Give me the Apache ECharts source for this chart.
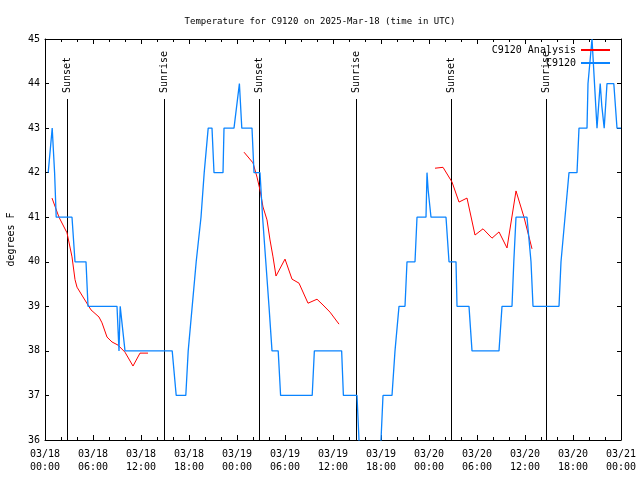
<!DOCTYPE html>
<html>
<head>
<meta charset="utf-8">
<script src="https://cdn.jsdelivr.net/npm/echarts@6/dist/echarts.min.js"></script>
<style>html,body{margin:0;padding:0;background:#fff}#c{width:640px;height:480px}</style>
</head>
<body>
<div id="c"></div>
<script>
// Hours since 2025-03-18 00:00 UTC, temperature in degrees F
const xTickLabels = ['03/18\n00:00','03/18\n06:00','03/18\n12:00','03/18\n18:00','03/19\n00:00','03/19\n06:00','03/19\n12:00','03/19\n18:00','03/20\n00:00','03/20\n06:00','03/20\n12:00','03/20\n18:00','03/21\n00:00'];

const observed = [
  [0.4,42],[0.9,43],[1.0,43],[1.2,42],[1.4,41],[3.375,41],[3.75,40],[5.125,40],[5.375,39],
  [9.0,39],[9.25,38],[9.4,39],[9.6,39],[10.0,38],[15.9,38],[16.4,37],[17.6,37],[17.9,38],
  [18.1,38],[18.4,39],[18.9,40],[19.5,41],[19.9,42],[20.4,43],[20.875,43],[21.125,42],
  [22.25,42],[22.375,43],[23.625,43],[24.3,44],[24.6,43],[25.875,43],[26.125,42],[26.875,42],
  [27.2,41],[27.6,40],[28.0,39],[28.375,38],[29.15,38],[29.45,37],[33.4,37],[33.67,38],
  [37.08,38],[37.3,37],[39.0,37],[39.5,35],[41.75,35],[42.25,37],[43.375,37],[43.75,38],
  [44.25,39],[45.0,39],[45.25,40],[46.25,40],[46.5,41],[47.625,41],[47.75,42],[47.9,41.6],
  [48.25,41],[50.125,41],[50.5,40],[51.375,40],[51.5,39],[53.0,39],[53.375,38],[56.75,38],
  [57.125,39],[58.375,39],[58.6,40],[58.875,41],[60.25,41],[60.75,40],[61.0,39],[64.25,39],
  [64.5,40],[64.75,40],[65.0,41],[65.25,41],[65.5,42],[66.5,42],[66.75,43],[67.75,43],
  [67.875,44],[68.375,45],[68.5,45],[69.0,43],[69.4,44],[69.6,43.5],[69.9,43],[70.25,44],
  [71.1,44],[71.5,43],[72,43]
];

const analysisDay1 = [
  [0.875,41.43],[1.75,41.0],[2.75,40.65],[3.375,40.11],[3.75,39.6],[4.0,39.43],[4.75,39.21],
  [5.75,38.92],[6.75,38.76],[7.125,38.63],[7.75,38.31],[8.375,38.2],[9.125,38.13],[10.0,37.97],
  [11.0,37.66],[11.875,37.95],[12.875,37.95]
];
const analysisDay2 = [
  [24.875,42.46],[26.0,42.22],[26.5,41.9],[26.875,41.61],[27.25,41.23],[27.75,40.94],
  [28.125,40.49],[28.5,40.11],[28.875,39.68],[30.0,40.06],[30.875,39.61],[31.75,39.52],
  [32.875,39.07],[34.0,39.16],[34.75,39.03],[35.625,38.87],[36.75,38.6]
];
const analysisDay3 = [
  [48.75,42.1],[49.75,42.12],[50.875,41.79],[51.75,41.34],[52.75,41.43],[53.75,40.6],
  [54.75,40.74],[55.875,40.53],[56.75,40.67],[57.75,40.31],[58.875,41.59],[59.875,41.0],
  [60.875,40.29]
];

const sunTimes  = [2.8, 14.92, 26.8, 38.88, 50.8, 62.68];
const sunLabels = ['Sunset','Sunrise','Sunset','Sunrise','Sunset','Sunrise'];

const FONT = 'DejaVu Sans Mono';
const RED = '#ff0000';
const BLUE = '#0a84ff';
const sunLineTop = 43.65;

const chart = echarts.init(document.getElementById('c'), null, {renderer:'canvas'});

function xAxisDef(pos, showLabel){
  return {
    type:'value', position:pos, min:0, max:72, interval:6,
    axisLine:{show:true, onZero:false, lineStyle:{color:'#000', width:1}},
    axisTick:{show:true, inside:true, length:5, lineStyle:{color:'#000'}},
    minorTick:{show:true, splitNumber:3, length:3, lineStyle:{color:'#000'}},
    splitLine:{show:false}, minorSplitLine:{show:false},
    axisLabel:{show:showLabel, margin:8, color:'#000', fontFamily:FONT, fontSize:10, lineHeight:13,
      formatter:(v)=> xTickLabels[Math.round(v/6)]}
  };
}
function yAxisDef(pos, showLabel){
  const a = {
    type:'value', position:pos, min:36, max:45, interval:1,
    axisLine:{show:true, onZero:false, lineStyle:{color:'#000', width:1}},
    axisTick:{show:true, inside:true, length:4, lineStyle:{color:'#000'}},
    splitLine:{show:false},
    axisLabel:{show:showLabel, margin:5, color:'#000', fontFamily:FONT, fontSize:10}
  };
  if (showLabel){
    a.name = 'degrees F'; a.nameLocation = 'middle'; a.nameGap = 29; a.nameRotate = 90;
    a.nameTextStyle = {color:'#000', fontFamily:FONT, fontSize:10};
  }
  return a;
}

const legendBase = {orient:'vertical', right:30, align:'right', itemWidth:29, itemHeight:2, icon:'rect', padding:0, itemGap:0,
  textStyle:{color:'#000', fontFamily:FONT, fontSize:10}};

chart.setOption({
  animation:false,
  backgroundColor:'#fff',
  title:{text:'Temperature for C9120 on 2025-Mar-18 (time in UTC)', left:'center', top:12,
    textStyle:{color:'#000', fontFamily:FONT, fontSize:9, fontWeight:'normal'}},
  legend:[
    Object.assign({}, legendBase, {data:['C9120 Analysis'], top:45}),
    Object.assign({}, legendBase, {data:['C9120'], top:58})
  ],
  grid:{left:45, right:19, top:39, bottom:40, containLabel:false, outerBoundsMode:'none'},
  xAxis:[xAxisDef('bottom', true), xAxisDef('top', false)],
  yAxis:[yAxisDef('left', true), yAxisDef('right', false)],
  series:[
    {
      type:'custom', name:'sun', silent:true, z:1,
      data: sunTimes.map(t=>[t]),
      renderItem:(params, api)=>{
        const t = api.value(0);
        const top = api.coord([t, sunLineTop]);
        const bot = api.coord([t, 36]);
        const x = Math.round(top[0]) + 0.5;
        return {type:'group', children:[
          {type:'line', shape:{x1:x, y1:Math.round(top[1]), x2:x, y2:bot[1]}, style:{stroke:'#000', lineWidth:1}},
          {type:'text', x:x, y:Math.round(top[1]) - 6, rotation:Math.PI/2,
            style:{text:sunLabels[params.dataIndex], fill:'#000', font:'10px ' + FONT, align:'left', verticalAlign:'middle'}}
        ]};
      }
    },
    {type:'line', name:'C9120 Analysis', data:analysisDay1, symbol:'none', z:2, lineStyle:{color:RED, width:1}, itemStyle:{color:RED}},
    {type:'line', name:'C9120 Analysis', data:analysisDay2, symbol:'none', z:2, lineStyle:{color:RED, width:1}, itemStyle:{color:RED}},
    {type:'line', name:'C9120 Analysis', data:analysisDay3, symbol:'none', z:2, lineStyle:{color:RED, width:1}, itemStyle:{color:RED}},
    {type:'line', name:'C9120', data:observed, symbol:'none', z:3, clip:true, lineStyle:{color:BLUE, width:1.3}, itemStyle:{color:BLUE}}
  ]
});
</script>
</body>
</html>
